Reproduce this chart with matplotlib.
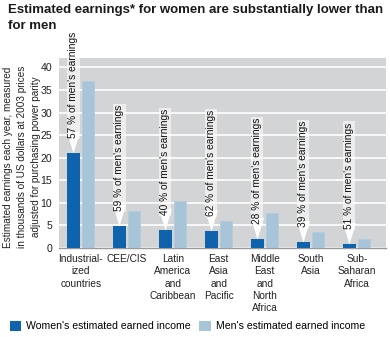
import matplotlib
matplotlib.use("Agg")
import matplotlib.pyplot as plt
from matplotlib.patches import Patch
import numpy as np

plt.rcParams['font.family'] = ['Liberation Sans', 'DejaVu Sans']

categories = ["Industrial-\nized\ncountries", "CEE/CIS", "Latin\nAmerica\nand\nCaribbean",
              "East\nAsia\nand\nPacific", "Middle\nEast\nand\nNorth\nAfrica", "South\nAsia",
              "Sub-\nSaharan\nAfrica"]
women = [21.0, 4.8, 3.9, 3.75, 2.0, 1.3, 0.95]
men = [37.0, 8.3, 10.4, 6.0, 7.7, 3.5, 2.0]
pct_labels = ["57 % of men's earnings", "59 % of men's earnings", "40 % of men's earnings",
              "62 % of men's earnings", "28 % of men's earnings", "39 % of men's earnings",
              "51 % of men's earnings"]
yticks = [0, 5, 10, 15, 20, 25, 30, 35, 40]

title = "Estimated earnings* for women are substantially lower than\nfor men"
ylabel = ("Estimated earnings each year, measured\nin thousands of US dollars at 2003 prices\n"
          "adjusted for purchasing power parity")
legend_labels = ["Women's estimated earned income", "Men's estimated earned income"]

c_women = "#0f63ad"
c_men = "#a7c4d8"
c_bg = "#d3d4d6"

fig = plt.figure(figsize=(3.9, 3.37), dpi=100)
ax = fig.add_axes([59/390, 1-248/337, 327/390, 190/337])
ax.set_facecolor(c_bg)

x = np.arange(len(categories))
bw = 0.28
off = 0.158
ax.bar(x - off, women, bw, color=c_women, zorder=3)
ax.bar(x + off, men, bw, color=c_men, edgecolor="#b3ccdd", linewidth=0.6, zorder=3)

ax.set_ylim(0, 42.1)
ax.set_xlim(-0.473, 6.636)
ax.set_yticks(yticks)
ax.set_yticklabels([str(v) for v in yticks], fontsize=7.6, color="#222222")
ax.yaxis.grid(True, color="white", linewidth=1.2, zorder=0)
ax.set_axisbelow(True)
ax.tick_params(axis='both', length=0)
ax.tick_params(axis='y', pad=5)
ax.tick_params(axis='x', pad=4.5)
ax.set_xticks(x)
ax.set_xticklabels(categories, fontsize=7.3, linespacing=1.27, color="#222222")
for s in ['top', 'right', 'left']:
    ax.spines[s].set_visible(False)
ax.spines['bottom'].set_color("#9a9a9a")
ax.spines['bottom'].set_linewidth(1.0)

tri = [(-0.3, 1.0), (0.3, 1.0), (0.0, 0.0)]
for xi, w, lab in zip(x, women, pct_labels):
    ax.plot([xi - off], [w], marker=tri, markersize=31, color="white",
            markeredgewidth=0, zorder=4, clip_on=False)
    ax.annotate(lab, xy=(xi - off, w), xytext=(0, 15), textcoords='offset pixels',
                rotation=90, ha='center', va='bottom', fontsize=7.3, color="#111111",
                zorder=5, annotation_clip=False,
                bbox=dict(boxstyle='square,pad=0.1', fc='white', ec='none', alpha=0.6))

fig.text(8/390, 1-4/337, title, ha='left', va='top', fontsize=9.5, fontweight='bold',
         color="#1a1a1a", linespacing=1.4)
fig.text(22/390, 1-157/337, ylabel, rotation=90, ha='center', va='center', fontsize=7.2,
         linespacing=1.55, color="#222222", multialignment='center')

handles = [Patch(facecolor=c_women, edgecolor='none'), Patch(facecolor=c_men, edgecolor='none')]
fig.legend(handles, legend_labels, loc='center left', bbox_to_anchor=(10/390, 1-326/337),
           ncol=2, frameon=False, fontsize=7.6, handlelength=1.05, handleheight=1.2,
           handletextpad=0.5, columnspacing=0.8, borderpad=0, borderaxespad=0)

fig.savefig("out.png", dpi=100)
